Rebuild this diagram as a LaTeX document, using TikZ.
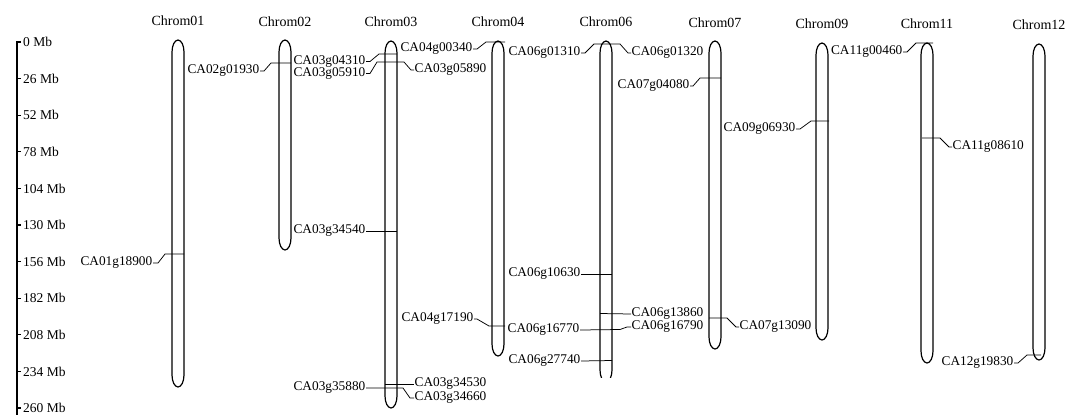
\documentclass[tikz,border=0pt]{standalone}
\usepackage{fontspec}
\setmainfont{Liberation Serif}
\begin{document}
\begin{tikzpicture}[x=1pt,y=-1pt,
  chr/.style={line width=1.2pt},
  mk/.style={line width=0.75pt},
  axisln/.style={line width=1.3pt},
  gl/.style={inner sep=0.5pt,font=\fontsize{13.3}{15}\selectfont},
  cl/.style={inner sep=0pt,font=\fontsize{14}{16}\selectfont},
  al/.style={inner sep=0pt,anchor=west,font=\fontsize{13.5}{15}\selectfont}]
\useasboundingbox (0,0) rectangle (1069,416);
\newcommand\chromo[3]{%
  \draw[chr] (#1-6,#2+12) .. controls (#1-6,#2+5.4) and (#1-3.3,#2) .. (#1,#2)
    .. controls (#1+3.3,#2) and (#1+6,#2+5.4) .. (#1+6,#2+12)
    -- (#1+6,#3-12) .. controls (#1+6,#3-5.4) and (#1+3.3,#3) .. (#1,#3)
    .. controls (#1-3.3,#3) and (#1-6,#3-5.4) .. (#1-6,#3-12) -- cycle;}
% axis
\coordinate (axtop) at (17,41);
\coordinate (axbot) at (17,415);
\draw[axisln] (axtop) -- (axbot);
\foreach \k/\lab in {0/0,1/26,2/52,3/78,4/104,5/130,6/156,7/182,8/208,9/234,10/260}{
  \draw[axisln] (16.4,42+36.6*\k) -- (21,42+36.6*\k);
  \node[al] (ax\k) at (23,42+36.6*\k) {\lab\ Mb};
}
% chromosome titles
\node[cl] (c01) at (178,21) {Chrom01};
\node[cl] (c02) at (285,22) {Chrom02};
\node[cl] (c03) at (391,22) {Chrom03};
\node[cl] (c04) at (498,22) {Chrom04};
\node[cl] (c06) at (606,22) {Chrom06};
\node[cl] (c07) at (715,23) {Chrom07};
\node[cl] (c09) at (822,24) {Chrom09};
\node[cl] (c11) at (927,24) {Chrom11};
\node[cl] (c12) at (1039,25) {Chrom12};
% chromosomes
\chromo{178}{40}{387}
\chromo{285}{40}{250}
\chromo{391}{41}{408}
\chromo{498}{41}{356}
\begin{scope}
  \clip (0,0) rectangle (1069,377.5);
  \chromo{606}{41}{382}
\end{scope}
\chromo{715}{41}{349}
\chromo{822}{43}{340}
\chromo{927}{43}{363}
\chromo{1039}{44}{360}
% genes
\node[gl,anchor=east] (g0118900) at (153,263) {CA01g18900};
\draw[mk] (g0118900.east) -- (158,263) -- (165,254) -- (184,254);
\node[gl,anchor=east] (g0201930) at (260,71) {CA02g01930};
\draw[mk] (g0201930.east) -- (264,71) -- (271,63) -- (291,63);
\node[gl,anchor=east] (g0304310) at (366,61.5) {CA03g04310};
\draw[mk] (g0304310.east) -- (370,61.5) -- (379,54) -- (397,54);
\node[gl,anchor=east] (g0305910) at (366,73.5) {CA03g05910};
\node[gl,anchor=west] (g0305890) at (414,70) {CA03g05890};
\draw[mk] (g0305910.east) -- (370,73.5) -- (377,62) -- (404,62) -- (411,70) -- (g0305890.west);
\node[gl,anchor=east] (g0400340) at (473,49) {CA04g00340};
\draw[mk] (g0400340.east) -- (477,49) -- (486,42) -- (505,42);
\node[gl,anchor=east] (g0334540) at (366,231) {CA03g34540};
\draw[mk] (g0334540.east) -- (397,231);
\node[gl,anchor=east] (g0335880) at (366,388) {CA03g35880};
\node[gl,anchor=west] (g0334530) at (414,384) {CA03g34530};
\node[gl,anchor=west] (g0334660) at (414,398) {CA03g34660};
\draw[mk] (g0335880.east) -- (403,388) -- (410,398) -- (g0334660.west);
\draw[mk] (385,384) -- (g0334530.west);
\node[gl,anchor=east] (g0417190) at (474,319) {CA04g17190};
\draw[mk] (g0417190.east) -- (477,319) -- (489,326) -- (505,326);
\node[gl,anchor=west] (g0616770) at (507,330) {CA06g16770};
\node[gl,anchor=west] (g0616790) at (631,327) {CA06g16790};
\draw[mk] (g0616770.east) -- (620,329.5) -- (627,327) -- (g0616790.west);
\node[gl,anchor=east] (g0601310) at (581,53) {CA06g01310};
\node[gl,anchor=west] (g0601320) at (631,53) {CA06g01320};
\draw[mk] (g0601310.east) -- (585,53) -- (594,44) -- (620,44) -- (628,53) -- (g0601320.west);
\node[gl,anchor=east] (g0610630) at (581,274) {CA06g10630};
\draw[mk] (g0610630.east) -- (612,274);
\node[gl,anchor=west] (g0613860) at (631,314) {CA06g13860};
\draw[mk] (600,313.5) -- (g0613860.west);
\node[gl,anchor=east] (g0627740) at (581,361) {CA06g27740};
\draw[mk] (g0627740.east) -- (612,360.5);
\node[gl,anchor=east] (g0704080) at (690,86) {CA07g04080};
\draw[mk] (g0704080.east) -- (693,86) -- (700,78) -- (721,78);
\node[gl,anchor=west] (g0713090) at (739,327) {CA07g13090};
\coordinate (m0713090) at (709,318);
\draw[mk] (m0713090) -- (727,318) -- (736,327) -- (g0713090.west);
\node[gl,anchor=east] (g0906930) at (796,129) {CA09g06930};
\draw[mk] (g0906930.east) -- (800,129) -- (811,121) -- (829,121);
\node[gl,anchor=east] (g1100460) at (903,52) {CA11g00460};
\draw[mk] (g1100460.east) -- (907,52) -- (916,43) -- (933,43);
\node[gl,anchor=west] (g1108610) at (952,147) {CA11g08610};
\coordinate (m1108610) at (922,138);
\draw[mk] (m1108610) -- (940,138) -- (949,147) -- (g1108610.west);
\node[gl,anchor=east] (g1219830) at (1014,363) {CA12g19830};
\draw[mk] (g1219830.east) -- (1018,363) -- (1027,355) -- (1041,355);
\end{tikzpicture}
\end{document}
